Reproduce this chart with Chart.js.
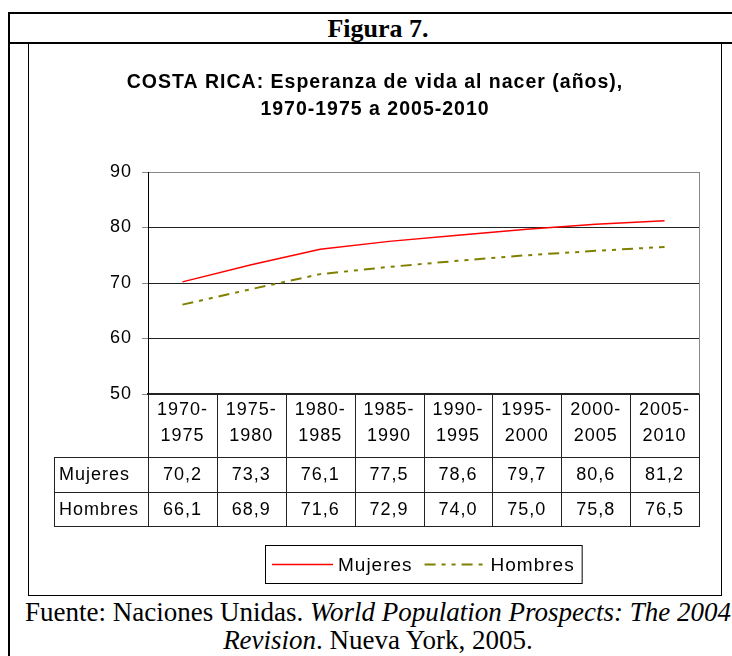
<!DOCTYPE html>
<html>
<head>
<meta charset="utf-8">
<script src="https://cdn.jsdelivr.net/npm/chart.js@4.4.1/dist/chart.umd.min.js"></script>
<style>
  html, body { margin: 0; padding: 0; background: #fff; }
  body { width: 732px; height: 656px; position: relative; overflow: hidden; }
  .frame-top { position: absolute; left: 8px; top: 12px; width: 740px; height: 2px; background: #000; }
  .frame-left { position: absolute; left: 8px; top: 12px; width: 2px; height: 660px; background: #000; }
  .frame-mid { position: absolute; left: 8px; top: 42px; width: 740px; height: 2px; background: #000; }
  .heading { position: absolute; left: 8px; top: 14px; width: 740px; height: 28px; line-height: 28px;
    text-align: center; font: bold 26px "Liberation Serif", "Times New Roman", serif; }
  .inner { position: absolute; left: 28px; top: 44px; width: 692px; height: 551px;
    border-left: 1px solid #000; border-right: 1px solid #000; border-bottom: 1px solid #000; }
  .inner canvas { position: absolute; left: 0; top: 0; }
  .source { position: absolute; left: 8px; top: 598px; width: 740px; text-align: center;
    font: 27px "Liberation Serif", "Times New Roman", serif; line-height: 28px; white-space: nowrap; }
</style>
</head>
<body>
<div class="frame-top"></div>
<div class="frame-left"></div>
<div class="frame-mid"></div>
<div class="heading">Figura 7.</div>
<div class="inner"><canvas id="chart" width="692" height="551"></canvas></div>
<div class="source">Fuente: Naciones Unidas. <i>World Population Prospects: The 2004</i><br><i>Revision</i>. Nueva York, 2005.</div>

<script>
const periods = [
  ['1970-', '1975'], ['1975-', '1980'], ['1980-', '1985'], ['1985-', '1990'],
  ['1990-', '1995'], ['1995-', '2000'], ['2000-', '2005'], ['2005-', '2010'],
];
const mujeres = [70.2, 73.3, 76.1, 77.5, 78.6, 79.7, 80.6, 81.2];
const hombres = [66.1, 68.9, 71.6, 72.9, 74.0, 75.0, 75.8, 76.5];
const yTicks = [50, 60, 70, 80, 90];

const FONT = '"Liberation Sans", Arial, sans-serif';
const fmt = v => v.toFixed(1).replace('.', ',');

// the original chart text is slightly letter-spaced
const spacingPlugin = {
  id: 'spacing',
  beforeLayout(chart) { chart.ctx.letterSpacing = '1px'; },
  beforeDraw(chart) { chart.ctx.letterSpacing = '1px'; },
};

// data table under the x axis plus the boxed legend
const tablePlugin = {
  id: 'tableAndLegend',
  afterDraw(chart) {
    const { ctx, chartArea } = chart;
    const xs = chart.scales.x;
    const n = periods.length;
    const colW = xs.width / n;
    const axisY = chartArea.bottom;
    const row1 = 413, row2 = 448, row3 = 482;
    const labelLeft = 25;

    ctx.save();
    // right border of the plot area
    ctx.strokeStyle = '#888';
    ctx.lineWidth = 1;
    ctx.beginPath();
    ctx.moveTo(chartArea.right + 0.5, chartArea.top);
    ctx.lineTo(chartArea.right + 0.5, axisY);
    ctx.stroke();

    ctx.strokeStyle = '#222';
    ctx.beginPath();
    for (let i = 0; i <= n; i++) {
      const x = Math.round(xs.left + i * colW) + 0.5;
      ctx.moveTo(x, axisY);
      ctx.lineTo(x, row3);
    }
    ctx.moveTo(labelLeft + 0.5, row1);
    ctx.lineTo(labelLeft + 0.5, row3);
    [row1, row2, row3].forEach(y => {
      ctx.moveTo(labelLeft, y + 0.5);
      ctx.lineTo(xs.right + 1, y + 0.5);
    });
    ctx.stroke();

    ctx.fillStyle = '#000';
    ctx.font = '18px ' + FONT;
    ctx.textBaseline = 'middle';
    ctx.textAlign = 'left';
    ctx.fillText('Mujeres', labelLeft + 5, (row1 + row2) / 2 + 1);
    ctx.fillText('Hombres', labelLeft + 5, (row2 + row3) / 2 + 1);
    ctx.textAlign = 'center';
    for (let i = 0; i < n; i++) {
      const cx = xs.getPixelForValue(i);
      ctx.fillText(fmt(mujeres[i]), cx, (row1 + row2) / 2 + 1);
      ctx.fillText(fmt(hombres[i]), cx, (row2 + row3) / 2 + 1);
    }

    // legend
    ctx.font = '19px ' + FONT;
    const sets = chart.data.datasets;
    const sample = 61, gap = 5, between = 12, padX = 7;
    const widths = sets.map(d => ctx.measureText(d.label).width);
    let total = padX * 2;
    widths.forEach((w, i) => { total += sample + gap + w + (i ? between : 0); });
    const lx = Math.round((chartArea.left + chartArea.right) / 2 - total / 2);
    const ly = 501, lh = 38;
    ctx.strokeStyle = '#000';
    ctx.strokeRect(lx + 0.5, ly + 0.5, total, lh);
    let x = lx + padX;
    const cy = ly + lh / 2 + 0.5;
    sets.forEach((d, i) => {
      if (i) x += between;
      ctx.save();
      ctx.strokeStyle = d.borderColor;
      ctx.lineWidth = d.borderWidth;
      ctx.setLineDash(d.borderDash || []);
      ctx.beginPath();
      ctx.moveTo(x, cy);
      ctx.lineTo(x + sample, cy);
      ctx.stroke();
      ctx.restore();
      x += sample + gap;
      ctx.textAlign = 'left';
      ctx.fillStyle = '#000';
      ctx.fillText(d.label, x, cy + 1);
      x += widths[i];
    });
    ctx.restore();
  },
};

const ctx = document.getElementById('chart').getContext('2d');
new Chart(ctx, {
  type: 'line',
  data: {
    labels: periods,
    datasets: [
      {
        label: 'Mujeres',
        data: mujeres,
        borderColor: '#ff0000',
        borderWidth: 1.5,
        pointRadius: 0,
        tension: 0,
      },
      {
        label: 'Hombres',
        data: hombres,
        borderColor: '#808000',
        borderWidth: 2,
        borderDash: [11, 6, 4, 6, 4, 6],
        pointRadius: 0,
        tension: 0,
      },
    ],
  },
  options: {
    responsive: false,
    animation: false,
    layout: { padding: { left: 22, right: 22, top: 0, bottom: 69 } },
    plugins: {
      legend: { display: false },
      tooltip: { enabled: false },
      title: {
        display: true,
        text: ['COSTA RICA: Esperanza de vida al nacer (años),', '1970-1975 a 2005-2010'],
        color: '#000',
        font: { family: FONT, size: 19.5, weight: 'bold', lineHeight: '27px' },
        padding: { top: 25, bottom: 49 },
      },
    },
    scales: {
      x: {
        offset: true,
        grid: { display: false, drawTicks: false },
        border: { color: '#222', width: 2 },
        ticks: {
          color: '#000',
          padding: 3,
          maxRotation: 0,
          autoSkip: false,
          font: { family: FONT, size: 18, lineHeight: '26px' },
        },
        afterFit(scale) { scale.height = 132; },
      },
      y: {
        min: 50,
        max: 90,
        afterBuildTicks(scale) { scale.ticks = yTicks.map(v => ({ value: v })); },
        grid: {
          color: ctx => (ctx.tick && ctx.tick.value === 90 ? '#888' : '#222'),
          tickLength: 6,
          tickColor: '#888',
        },
        border: { color: '#000', width: 1 },
        ticks: {
          color: '#000',
          padding: 10,
          font: { family: FONT, size: 18 },
        },
        afterFit(scale) { scale.width = 97; },
      },
    },
  },
  plugins: [spacingPlugin, tablePlugin],
});
</script>
</body>
</html>
